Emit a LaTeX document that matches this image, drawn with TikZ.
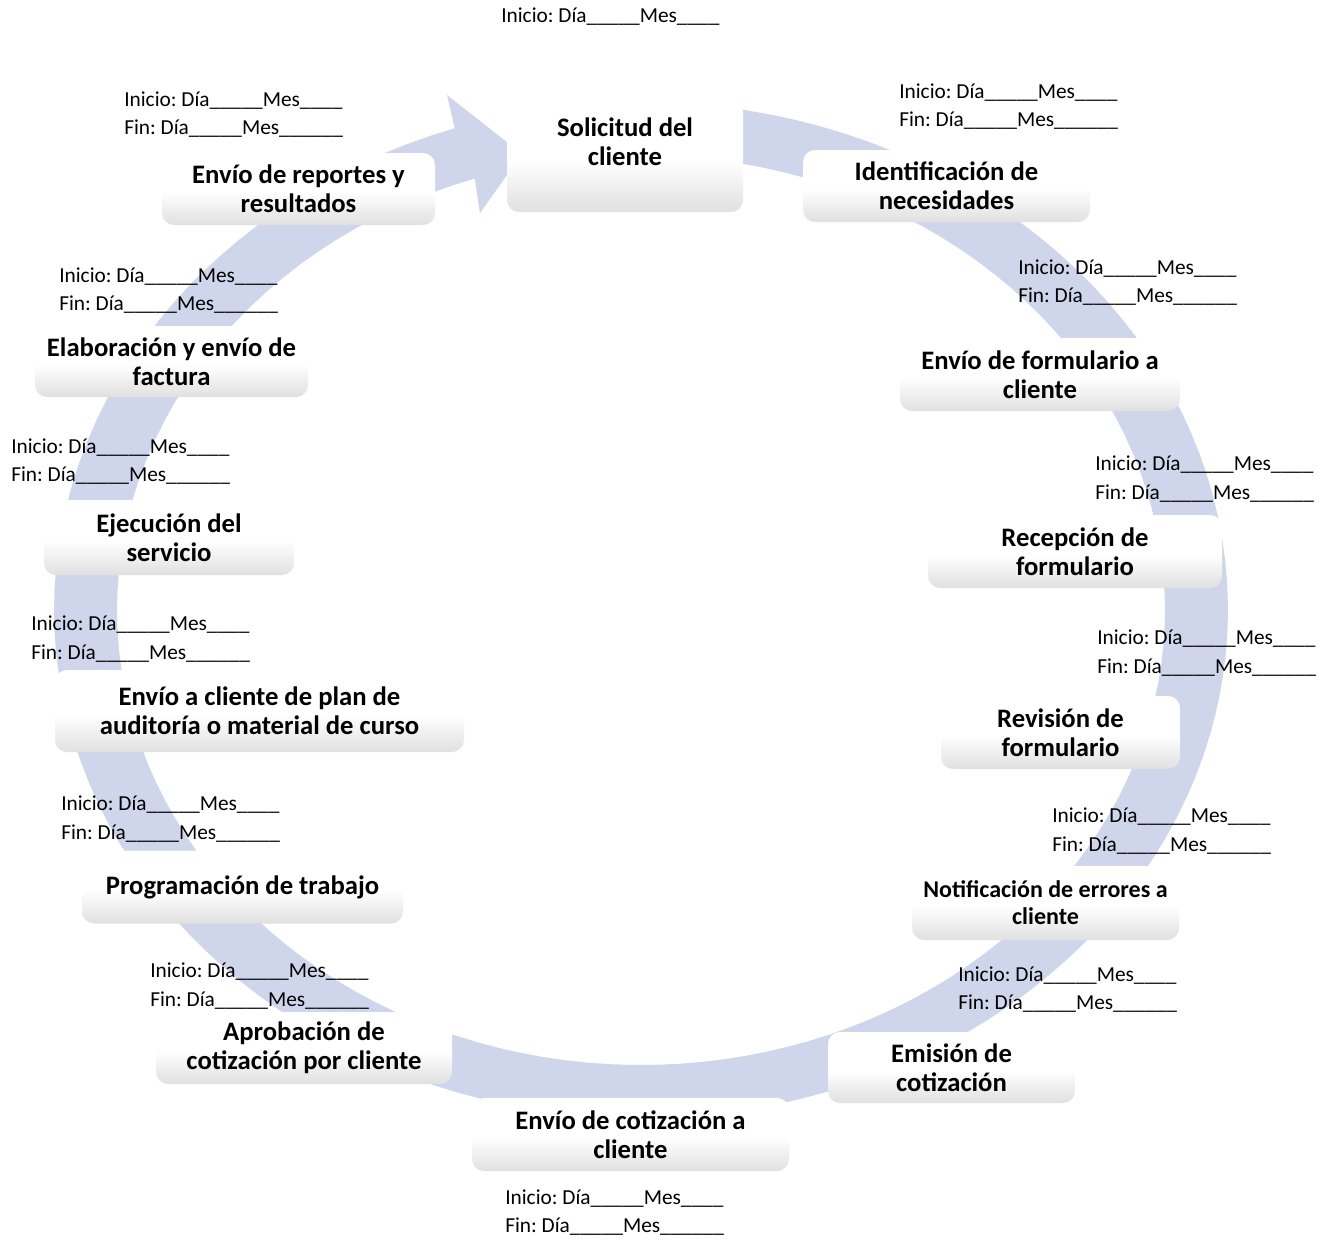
\documentclass[tikz,border=0pt]{standalone}
\usepackage{fontspec}
\setmainfont{Carlito}
\definecolor{ringblue}{RGB}{207,213,234}
\definecolor{boxgray}{RGB}{224,224,224}
% white upper half, fading to light grey at the bottom edge
\pgfdeclareverticalshading{stagefill}{100bp}{%
  color(0bp)=(boxgray); color(25bp)=(boxgray); color(48bp)=(white);
  color(75bp)=(white); color(100bp)=(white)}

\begin{document}
\frenchspacing
\begin{tikzpicture}[x=0.75pt,y=-0.75pt,
  stage/.style n args={2}{rounded corners=9pt, minimum width=#1*0.75pt,
    minimum height=#2*0.75pt, shading=stagefill, align=center, inner sep=0pt,
    font=\fontsize{20}{21.75}\selectfont\bfseries},
  dates/.style={align=left, inner sep=0pt, anchor=west,
    font=\fontsize{16}{21.6}\selectfont}]

\useasboundingbox (0,0) rectangle (1328,1240);

% cycle band with its arrow head
\fill[ringblue]
  plot[domain=268:611.5, samples=140, variable=\t]
    ({641+587*cos(\t)},{610+508*sin(\t)})
  -- (447,95) -- (522,154) -- (480,213)
  -- plot[domain=611.5:268, samples=140, variable=\t]
    ({641+524*cos(\t)},{610+455*sin(\t)})
  -- cycle;

% process stages
\node[stage={236}{112}] (sol) at (625,156) {Solicitud del\\cliente\\\mbox{}};
\node[stage={287}{72}] (idn) at (946.5,186) {Identificación de\\necesidades};
\node[stage={280}{73}] (efc) at (1040,374.5) {Envío de formulario a\\cliente};
\node[stage={294}{73}] (rec) at (1075,551.5) {Recepción de\\formulario};
\node[stage={239}{73}] (rev) at (1060.5,732.5) {Revisión de\\formulario};
\node[stage={267}{74}, font=\fontsize{18}{20.25}\selectfont\bfseries] (ntf) at (1045.5,903) {Notificación de errores a\\cliente};
\node[stage={247}{71}] (emi) at (951.5,1067.5) {Emisión de\\cotización};
\node[stage={317}{73}] (evc) at (630.5,1134.5) {Envío de cotización a\\cliente};
\node[stage={296}{72}] (apr) at (304,1048) {Aprobación de\\cotización por cliente};
\node[stage={321}{73}] (prg) at (242.5,887) {Programación de trabajo};
\node[stage={409}{82}] (pla) at (259.5,711) {Envío a cliente de plan de\\auditoría o material de curso};
\node[stage={250}{75}] (eje) at (169,537.5) {Ejecución del\\servicio};
\node[stage={273}{71}] (ela) at (171.5,361.5) {Elaboración y envío de\\factura};
\node[stage={273}{72}] (rep) at (298.5,189) {Envío de reportes y\\resultados};

% start and end dates
\node[dates] (dsol) at (501,17) {Inicio: Día\_\_\_\_\_Mes\_\_\_\_};
\node[dates] (didn) at (899,106.5) {Inicio: Día\_\_\_\_\_Mes\_\_\_\_\\Fin: Día\_\_\_\_\_Mes\_\_\_\_\_\_};
\node[dates] (defc) at (1018,282.5) {Inicio: Día\_\_\_\_\_Mes\_\_\_\_\\Fin: Día\_\_\_\_\_Mes\_\_\_\_\_\_};
\node[dates] (drec) at (1095,479) {Inicio: Día\_\_\_\_\_Mes\_\_\_\_\\Fin: Día\_\_\_\_\_Mes\_\_\_\_\_\_};
\node[dates] (drev) at (1097,653) {Inicio: Día\_\_\_\_\_Mes\_\_\_\_\\Fin: Día\_\_\_\_\_Mes\_\_\_\_\_\_};
\node[dates] (dntf) at (1052,831) {Inicio: Día\_\_\_\_\_Mes\_\_\_\_\\Fin: Día\_\_\_\_\_Mes\_\_\_\_\_\_};
\node[dates] (demi) at (958,989.5) {Inicio: Día\_\_\_\_\_Mes\_\_\_\_\\Fin: Día\_\_\_\_\_Mes\_\_\_\_\_\_};
\node[dates] (devc) at (505,1212.5) {Inicio: Día\_\_\_\_\_Mes\_\_\_\_\\Fin: Día\_\_\_\_\_Mes\_\_\_\_\_\_};
\node[dates] (dapr) at (150,986) {Inicio: Día\_\_\_\_\_Mes\_\_\_\_\\Fin: Día\_\_\_\_\_Mes\_\_\_\_\_\_};
\node[dates] (dprg) at (61,819) {Inicio: Día\_\_\_\_\_Mes\_\_\_\_\\Fin: Día\_\_\_\_\_Mes\_\_\_\_\_\_};
\node[dates] (dpla) at (31,639) {Inicio: Día\_\_\_\_\_Mes\_\_\_\_\\Fin: Día\_\_\_\_\_Mes\_\_\_\_\_\_};
\node[dates] (deje) at (11,461.5) {Inicio: Día\_\_\_\_\_Mes\_\_\_\_\\Fin: Día\_\_\_\_\_Mes\_\_\_\_\_\_};
\node[dates] (dela) at (59,290.5) {Inicio: Día\_\_\_\_\_Mes\_\_\_\_\\Fin: Día\_\_\_\_\_Mes\_\_\_\_\_\_};
\node[dates] (drep) at (124,114.5) {Inicio: Día\_\_\_\_\_Mes\_\_\_\_\\Fin: Día\_\_\_\_\_Mes\_\_\_\_\_\_};
\end{tikzpicture}
\end{document}
